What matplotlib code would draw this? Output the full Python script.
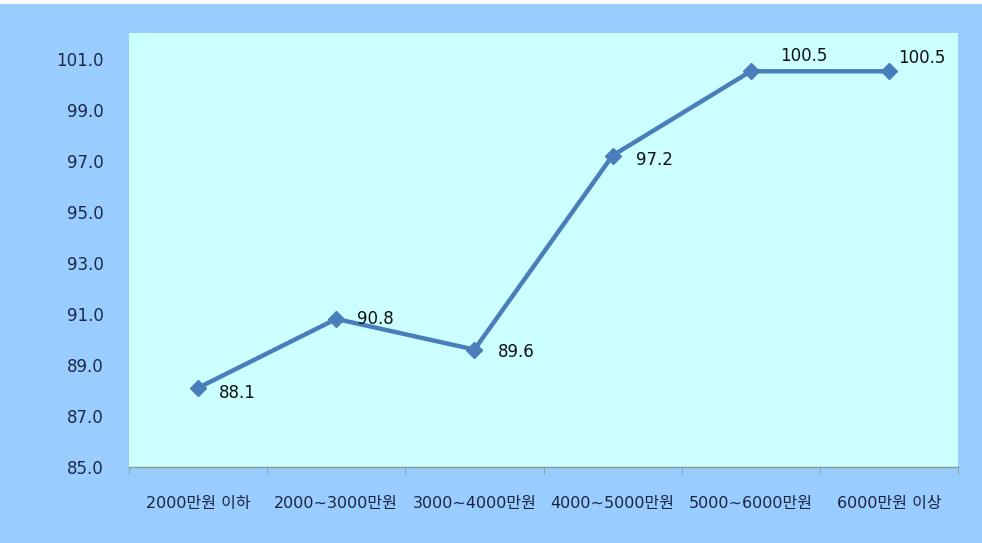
import matplotlib
matplotlib.use("Agg")
import matplotlib.pyplot as plt
from matplotlib.patches import Rectangle

plt.rcParams['font.family'] = ['DejaVu Sans', 'Noto Sans CJK KR']

categories = ["2000만원 이하", "2000~3000만원", "3000~4000만원", "4000~5000만원", "5000~6000만원", "6000만원 이상"]
values = [88.1, 90.8, 89.6, 97.2, 100.5, 100.5]
yticks = [85.0, 87.0, 89.0, 91.0, 93.0, 95.0, 97.0, 99.0, 101.0]
# label offsets in pixels (style)
label_offsets = [(21, -5), (21, 0), (23, -2), (23, -4), (29, 15), (9, 13)]

W, H = 982, 543
fig = plt.figure(figsize=(W/100, H/100), dpi=100)
fig.patch.set_facecolor('white')
fig.patches.append(Rectangle((0, 0), 1, 1 - 4/H, transform=fig.transFigure,
                             facecolor='#99ccff', edgecolor='none', zorder=-10))

ax = fig.add_axes([129/W, 1 - 467/H, (958-129)/W, (467-33)/H])
ax.set_facecolor('#ccffff')
x = list(range(len(categories)))
ax.plot(x, values, color='#4a7ebb', lw=3.2, marker='D', markersize=8.5, zorder=3)
for xi, v, off in zip(x, values, label_offsets):
    ax.annotate(f"{v:.1f}", (xi, v), xytext=off, textcoords='offset pixels',
                ha='left', va='center', fontsize=12, color='#111111')

ax.set_xlim(-0.5, len(categories) - 0.5)
ax.set_ylim(85, 102)
ax.set_yticks(yticks)
ax.set_yticklabels([f"{t:.1f}" for t in yticks], fontsize=12, color='#1c2a48')
ax.tick_params(axis='y', length=0, pad=18)
ax.set_xticks(x)
ax.set_xticklabels(categories, fontsize=11.5, color='#1c2440')
ax.set_xticks([i - 0.5 for i in range(len(categories) + 1)], minor=True)
ax.tick_params(axis='x', which='major', length=0, pad=21)
ax.tick_params(axis='x', which='minor', length=5, color='#8a9a8a', direction='out')
for s in ['left', 'right', 'top']:
    ax.spines[s].set_visible(False)
ax.spines['bottom'].set_color('#8a9a8a')
ax.spines['bottom'].set_linewidth(1)

fig.savefig('out.png', dpi=100, facecolor=fig.get_facecolor())
